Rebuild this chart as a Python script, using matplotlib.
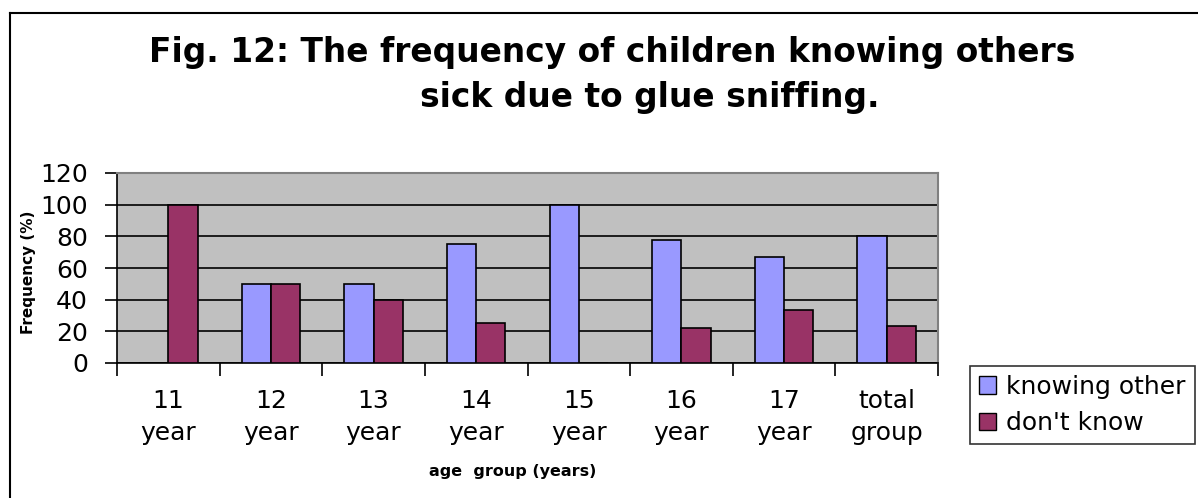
import matplotlib.pyplot as plt
import numpy as np
from matplotlib.lines import Line2D
from matplotlib.patches import Patch

plt.rcParams['font.family'] = ['DejaVu Sans']

# frequency (%) per age group
groups = ['11\nyear', '12\nyear', '13\nyear', '14\nyear', '15\nyear',
          '16\nyear', '17\nyear', 'total\ngroup']
knowing_other = [0, 50, 50, 75, 100, 77.8, 66.7, 80]
dont_know = [100, 50, 40, 25, 0, 22.2, 33.3, 23.3]

W, H = 1198, 498
fig = plt.figure(figsize=(W / 100, H / 100), dpi=100)

# plot area in pixel units -> figure fractions
x0, x1, y0, y1 = 117, 938, 173, 363
ax = fig.add_axes([x0 / W, 1 - y1 / H, (x1 - x0) / W, (y1 - y0) / H])
ax.set_facecolor('#C0C0C0')

n = len(groups)
x = np.arange(n)
bw = 0.285
ax.bar(x - bw / 2, knowing_other, bw, color='#9999FF', edgecolor='black',
       linewidth=1.2, zorder=3)
ax.bar(x + bw / 2, dont_know, bw, color='#993366', edgecolor='black',
       linewidth=1.2, zorder=3)

ax.set_xlim(-0.5, n - 0.5)
ax.set_ylim(0, 120)
ax.set_yticks(np.arange(0, 121, 20))
ax.yaxis.grid(True, color='black', linewidth=1.2, zorder=1)
ax.set_axisbelow(True)

# category labels centered, ticks at the category boundaries
ax.set_xticks(x)
ax.set_xticklabels(groups, fontsize=18, linespacing=1.38)
ax.tick_params(axis='x', which='major', length=0, pad=19)
ax.set_xticks(np.arange(-0.5, n, 1), minor=True)
ax.tick_params(axis='x', which='minor', length=9, width=1.2, direction='out')
ax.tick_params(axis='y', length=9, width=1.2, direction='out', labelsize=18, pad=12)

for s in ['top', 'right']:
    ax.spines[s].set_color('#808080')
    ax.spines[s].set_linewidth(1.5)
for s in ['left', 'bottom']:
    ax.spines[s].set_color('black')
    ax.spines[s].set_linewidth(1.2)

fig.text(28 / W, 1 - 272 / H, 'Frequency (%)', rotation=90, fontsize=11,
         fontweight='bold', ha='center', va='center')
fig.text(513 / W, 1 - 471 / H, 'age  group (years)', fontsize=11.5,
         fontweight='bold', ha='center', va='center')

# two-line title
fig.text(612 / W, 1 - 62 / H, 'Fig. 12: The frequency of children knowing others',
         fontsize=23.7, fontweight='bold', ha='center', va='baseline')
fig.text(650 / W, 1 - 107 / H, 'sick due to glue sniffing.',
         fontsize=23.7, fontweight='bold', ha='center', va='baseline')

handles = [Patch(facecolor='#9999FF', edgecolor='black', label='knowing other'),
           Patch(facecolor='#993366', edgecolor='black', label="don't know")]
leg = fig.legend(handles=handles, loc='upper left',
                 bbox_to_anchor=(970 / W, 1 - 366 / H), fontsize=18,
                 frameon=True, fancybox=False, handlelength=0.7,
                 handleheight=0.7, handletextpad=0.4, borderpad=0.35,
                 labelspacing=0.5, borderaxespad=0)
leg.get_frame().set_edgecolor('black')
leg.get_frame().set_linewidth(1.2)

# chart border (left and top edges)
fig.add_artist(Line2D([10 / W, 10 / W], [0, 1 - 13 / H], color='black', linewidth=1.5))
fig.add_artist(Line2D([10 / W, 1], [1 - 13 / H, 1 - 13 / H], color='black', linewidth=1.5))

fig.savefig('out.png', dpi=100)
